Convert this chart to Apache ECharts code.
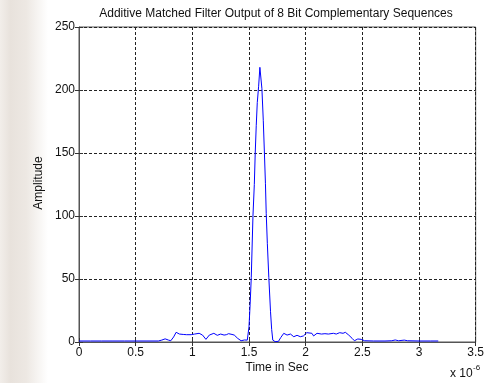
<!DOCTYPE html>
<html>
<head>
<meta charset="utf-8">
<script src="https://cdn.jsdelivr.net/npm/echarts@6/dist/echarts.min.js"></script>
<style>
html,body{margin:0;padding:0;background:#fff;}
#c{width:487px;height:383px;}
</style>
</head>
<body>
<div id="c"></div>
<script>
// Time in units of 1e-6 s (axis shows "x 10^-6")
const timeUs = [0, 0.1, 0.2, 0.3, 0.4, 0.5, 0.6, 0.7, 0.73, 0.76, 0.79, 0.81, 0.835, 0.857, 0.886, 0.92, 0.95, 0.99, 1.02, 1.06, 1.09, 1.12, 1.15, 1.19, 1.22, 1.25, 1.28, 1.30, 1.32, 1.35, 1.37, 1.40, 1.43, 1.46, 1.485, 1.5, 1.51, 1.52, 1.535, 1.547, 1.555, 1.564, 1.573, 1.585, 1.596, 1.614, 1.626, 1.636, 1.645, 1.652, 1.662, 1.675, 1.69, 1.70, 1.71, 1.73, 1.76, 1.78, 1.807, 1.836, 1.866, 1.895, 1.924, 1.953, 1.98, 2.01, 2.026, 2.055, 2.07, 2.10, 2.14, 2.17, 2.20, 2.245, 2.27, 2.30, 2.33, 2.35, 2.38, 2.41, 2.43, 2.46, 2.49, 2.52, 2.6, 2.7, 2.76, 2.79, 2.82, 2.87, 2.9, 3.0, 3.1, 3.17];
const amplitude = [0.8, 0.8, 0.8, 0.8, 0.8, 0.8, 0.8, 0.8, 1.5, 2.5, 1.5, 1, 4, 7.7, 6.3, 6, 5.8, 5.8, 6.3, 6.9, 5.5, 2.1, 5.5, 6.9, 5.3, 6.3, 5.5, 5.8, 6.6, 6, 5.5, 2.9, 1, 1.6, 1.5, 12, 30, 51, 100, 125, 150, 172, 190, 203, 218, 201, 176, 150, 126, 102, 78, 51, 24, 10, 1.5, 0.3, 0.5, 3.5, 6.9, 5.5, 6.3, 4.2, 5.3, 4.2, 4.8, 7.4, 8.7, 6.9, 4.8, 6.9, 6.3, 6.6, 6.3, 6.9, 6.3, 7.4, 6.9, 7.7, 5.5, 2.9, 1, 2.4, 2.1, 1, 0.8, 0.8, 1, 1.6, 1, 1.5, 1, 0.8, 0.8, 0.8];
const xTicks = {min: 0, max: 3.5, interval: 0.5};
const yTicks = {min: 0, max: 250, interval: 50};
const titleText = 'Additive Matched Filter Output of 8 Bit Complementary Sequences';
const xName = 'Time in Sec';
const yName = 'Amplitude';

const FONT = '"Liberation Sans", Arial, sans-serif';
const chart = echarts.init(document.getElementById('c'), null, {renderer: 'canvas'});
const gridSplit = {show: true, lineStyle: {color: '#222', type: [3, 2], width: 1}};
const tick = {show: true, inside: true, length: 4, lineStyle: {color: '#333'}};
const lbl = {color: '#111', fontFamily: FONT, fontSize: 12};

chart.setOption({
  backgroundColor: '#fff',
  animation: false,
  grid: {left: 79, right: 8, top: 27, bottom: 41, show: true, borderColor: '#555', borderWidth: 1, backgroundColor: 'transparent'},
  xAxis: [
    {type: 'value', min: xTicks.min, max: xTicks.max, interval: xTicks.interval, position: 'bottom',
     axisLine: {show: true, lineStyle: {color: '#555'}}, axisTick: tick, splitLine: gridSplit,
     axisLabel: Object.assign({margin: 5}, lbl)},
    {type: 'value', min: xTicks.min, max: xTicks.max, interval: xTicks.interval, position: 'top',
     axisLine: {show: false}, axisTick: tick, splitLine: {show: false}, axisLabel: {show: false}}
  ],
  yAxis: [
    {type: 'value', min: yTicks.min, max: yTicks.max, interval: yTicks.interval, position: 'left',
     axisLine: {show: true, lineStyle: {color: '#555'}}, axisTick: tick, splitLine: gridSplit,
     axisLabel: Object.assign({margin: 4}, lbl)},
    {type: 'value', min: yTicks.min, max: yTicks.max, interval: yTicks.interval, position: 'right',
     axisLine: {show: false}, axisTick: tick, splitLine: {show: false}, axisLabel: {show: false}}
  ],
  series: [{
    type: 'line',
    data: timeUs.map((t, i) => [t, amplitude[i]]),
    showSymbol: false,
    lineStyle: {color: '#0000ff', width: 1},
    itemStyle: {color: '#0000ff'},
    z: 5
  }],
  graphic: [
    {type: 'rect', z: -10, silent: true, shape: {x: 0, y: 0, width: 48, height: 383},
     style: {fill: new echarts.graphic.LinearGradient(0, 0, 1, 0, [
       {offset: 0, color: '#f2eeea'}, {offset: 0.22, color: '#e8e2dc'},
       {offset: 0.55, color: '#ede8e3'}, {offset: 1, color: '#ffffff'}])}},
    {type: 'text', x: 276, y: 14,
     style: {text: titleText, font: '12px ' + FONT, fill: '#111', textAlign: 'center', textVerticalAlign: 'middle'}},
    {type: 'text', x: 39, y: 183, rotation: Math.PI / 2,
     style: {text: yName, font: '12px ' + FONT, fill: '#111', textAlign: 'center', textVerticalAlign: 'middle'}},
    {type: 'text', x: 277, y: 368,
     style: {text: xName, font: '12px ' + FONT, fill: '#111', textAlign: 'center', textVerticalAlign: 'middle'}},
    {type: 'text', x: 450, y: 374,
     style: {text: 'x 10', font: '12px ' + FONT, fill: '#111', textAlign: 'left', textVerticalAlign: 'middle'}},
    {type: 'text', x: 473, y: 368,
     style: {text: '-6', font: '8px ' + FONT, fill: '#111', textAlign: 'left', textVerticalAlign: 'middle'}}
  ]
});
</script>
</body>
</html>
